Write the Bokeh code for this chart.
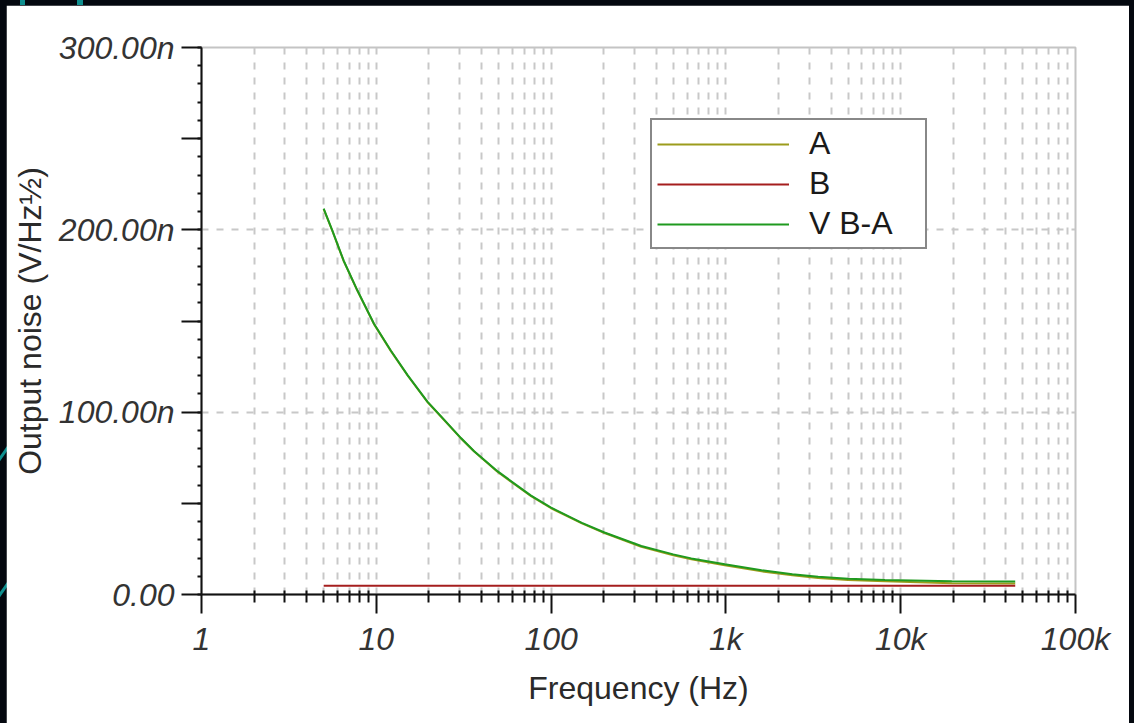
from bokeh.plotting import figure
from bokeh.models import FixedTicker, Legend, LegendItem, Range1d
from bokeh.embed import file_html
from bokeh.resources import INLINE

# ---- data ----
freq_hz = [5.0, 5.6, 6.5, 7.8, 9.7, 12.1, 15.1, 19.6, 23.4, 30.5, 36.3, 49.5, 76.8,
           100, 150, 202, 328, 500, 634, 985, 1600, 2400, 3370, 5000, 8130, 19600, 45200]
v_ba = [211.6, 199.7, 183.2, 166.7, 148.5, 133.8, 120.3, 105.8, 97.8, 85.8, 78.6, 67.5, 54.2,
        47.6, 39.3, 34.0, 26.6, 22.0, 19.8, 16.6, 13.3, 11.1, 9.8, 8.7, 7.9, 7.2, 7.1]
a_noise = [211.4, 199.5, 183.0, 166.5, 148.3, 133.6, 120.1, 105.6, 97.6, 85.6, 78.4, 67.2, 53.9,
           47.3, 39.0, 33.7, 26.2, 21.5, 19.3, 16.1, 12.7, 10.5, 9.1, 8.0, 7.2, 6.2, 6.0]
b_freq = [5.0, 45200]
b_noise = [4.8, 4.8]

x_major = [1, 10, 100, 1000, 10000, 100000]
x_labels = ["1", "10", "100", "1k", "10k", "100k"]
y_major = [0, 50, 100, 150, 200, 250, 300]
y_labels = ["0.00", "", "100.00n", "", "200.00n", "", "300.00n"]
y_grid = [100, 200]

FONT = "Liberation Sans"
FS = "32px"

p = figure(width=1123, height=718, x_axis_type="log",
           x_range=Range1d(1, 1e5), y_range=Range1d(0, 300),
           output_backend="svg", toolbar_location=None,
           min_border_left=195, min_border_right=54, min_border_top=42, min_border_bottom=129)
p.background_fill_color = "white"
p.border_fill_color = "white"
p.outline_line_color = "#c4c4c4"
p.outline_line_width = 2

x_minor = [m * d for d in x_major[:-1] for m in range(2, 10)]
xt = FixedTicker(ticks=x_major, minor_ticks=x_minor)
p.xaxis.ticker = xt
p.xaxis.major_label_overrides = {t: l for t, l in zip(x_major, x_labels)}
yt = FixedTicker(ticks=y_major, minor_ticks=list(range(0, 301, 10)))
p.yaxis.ticker = yt
p.yaxis.major_label_overrides = {t: l for t, l in zip(y_major, y_labels)}

for ax in (p.xaxis[0], p.yaxis[0]):
    ax.axis_line_color = "#111111"
    ax.axis_line_width = 2
    ax.major_tick_line_color = "#111111"
    ax.major_tick_line_width = 2
    ax.minor_tick_line_color = "#111111"
    ax.minor_tick_line_width = 2
    ax.major_tick_in = 0
    ax.major_label_text_font = FONT
    ax.major_label_text_font_style = "italic"
    ax.major_label_text_font_size = FS
    ax.major_label_text_color = "#333333"
    ax.axis_label_text_font = FONT
    ax.axis_label_text_font_style = "normal"
    ax.axis_label_text_font_size = FS
    ax.axis_label_text_color = "#2a2a2a"
    ax.major_label_standoff = 7

p.xaxis.major_tick_out = 19
p.xaxis.minor_tick_in = 4
p.xaxis.minor_tick_out = 8
p.xaxis.axis_label = "Frequency (Hz)"
p.xaxis.axis_label_standoff = 10

p.yaxis.major_tick_out = 20
p.yaxis.minor_tick_in = 0
p.yaxis.minor_tick_out = 4
p.yaxis.axis_label = "Output noise (V/Hz½)"
p.yaxis.axis_label_standoff = 8

p.xgrid.ticker = xt
p.xgrid.grid_line_color = "#c8c8c8"
p.xgrid.grid_line_width = 2
p.xgrid.grid_line_dash = "7 8"
p.xgrid.minor_grid_line_color = "#c8c8c8"
p.xgrid.minor_grid_line_width = 2
p.xgrid.minor_grid_line_dash = "7 8"
p.ygrid.ticker = FixedTicker(ticks=y_grid)
p.ygrid.grid_line_color = "#c8c8c8"
p.ygrid.grid_line_width = 2
p.ygrid.grid_line_dash = "7 8"

ra = p.line(freq_hz, a_noise, line_color="#9c9c1c", line_width=2)
rb = p.line(b_freq, b_noise, line_color="#a51e1e", line_width=2)
rv = p.line(freq_hz, v_ba, line_color="#1f9a1f", line_width=2)

legend = Legend(items=[LegendItem(label="A", renderers=[ra]),
                       LegendItem(label="B", renderers=[rb]),
                       LegendItem(label="V B-A", renderers=[rv])],
                location=(449, 345))
legend.border_line_color = "#111111"
legend.border_line_width = 2
legend.background_fill_color = "white"
legend.background_fill_alpha = 1
legend.label_text_font = FONT
legend.label_text_font_size = FS
legend.label_text_color = "#1a1a1a"
legend.glyph_width = 132
legend.glyph_height = 30
legend.label_height = 30
legend.label_width = 111
legend.label_standoff = 20
legend.spacing = 3
legend.padding = 5
legend.margin = 0
p.add_layout(legend)

deco = (
    '<div style="position:absolute;left:20px;top:0;width:5px;height:5px;background:#0f8f8f"></div>'
    '<div style="position:absolute;left:77px;top:0;width:6px;height:5px;background:#0f8f8f"></div>'
    '<div style="position:absolute;left:1px;top:442px;width:3px;height:26px;background:#0f8f8f;'
    'transform:rotate(35deg)"></div>'
    '<div style="position:absolute;left:1px;top:578px;width:3px;height:26px;background:#0f8f8f;'
    'transform:rotate(35deg)"></div>'
)

html = file_html(p, INLINE)
head, sep, rest = html.rpartition("</head>")
rest = rest.replace("<body>",
                    '<body style="margin:0;padding:5px 0 0 6px;background-color:#04080f;">' + deco, 1)
html = head + sep + rest
open("out.html", "w").write(html)
